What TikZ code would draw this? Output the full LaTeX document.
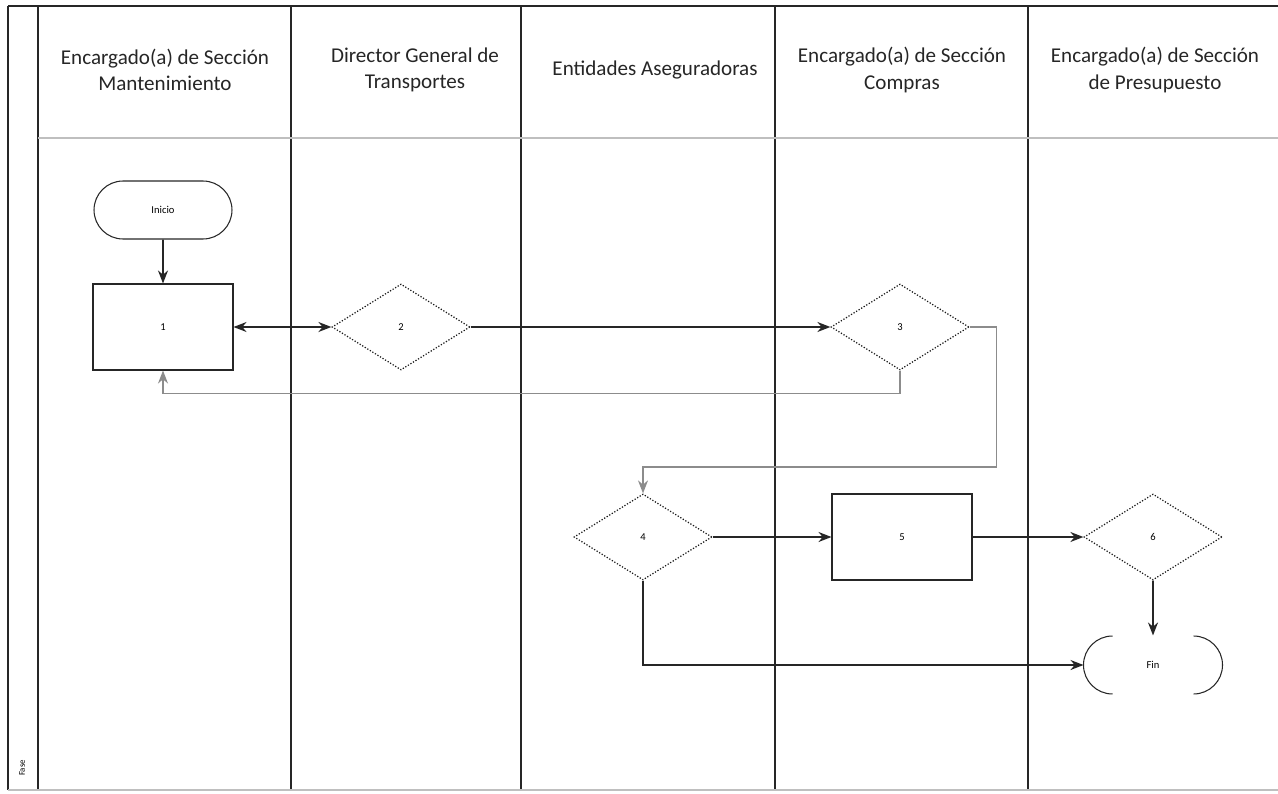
\documentclass[tikz,border=0pt]{standalone}
\usepackage{fontspec}
\setmainfont{Carlito}
\usepackage{tikz}
\usetikzlibrary{calc,arrows.meta,shapes.geometric,shapes.misc}
\colorlet{laneline}{black!85}
\colorlet{faint}{black!25}

\begin{document}
\begin{tikzpicture}[x=0.02cm, y=-0.02cm,
    >={Stealth[length=2.6mm,width=2mm]},
    lane/.style={line width=1.1pt, laneline},
    head/.style={align=center, font=\fontsize{12}{15}\selectfont, text=black!85},
    proc/.style={draw=black!85, line width=0.6pt, minimum width=2.8cm, minimum height=1.72cm, inner sep=0pt, font=\fontsize{6}{7}\selectfont},
    decis/.style={diamond, draw=black!90, densely dotted, line width=0.7pt, minimum width=2.76cm, minimum height=1.72cm, inner sep=0pt, font=\fontsize{6}{7}\selectfont},
    term/.style={rounded rectangle, draw=black!85, line width=0.6pt, minimum width=2.76cm, minimum height=1.16cm, inner sep=0pt, font=\fontsize{6}{7}\selectfont},
    flow/.style={->, line width=1pt, black!85},
    back/.style={->, line width=0.8pt, black!45}]
        \useasboundingbox (0,0) rectangle (1278,794);
        % Frame and lanes
        \draw[lane] (8,6) -- (1278,6);
        \draw[lane] (8,6) -- (8,790);
        \draw[lane] (38,6) -- (38,790);
        \draw[lane] (291,6) -- (291,790);
        \draw[lane] (521,6) -- (521,790);
        \draw[lane] (775,6) -- (775,790);
        \draw[lane] (1028,6) -- (1028,790);
        \draw[faint, line width=0.8pt] (38,138) -- (1278,138);
        \draw[faint, line width=0.8pt] (8,790) -- (1278,790);
        % Lane titles
        \node[head] (h1) at (165,70) {Encargado(a) de Sección\\Mantenimiento};
        \node[head] (h2) at (415,70) {Director General de\\Transportes};
        \node[head] (h3) at (655,70) {Entidades Aseguradoras};
        \node[head] (h4) at (902,70) {Encargado(a) de Sección\\Compras};
        \node[head] (h5) at (1155,70) {Encargado(a) de Sección\\de Presupuesto};
        \node[rotate=90, font=\fontsize{5}{6}\selectfont] (fase) at (22,768) {Fase};
        % Steps
        \node[term] (ini) at (163,210) {Inicio};
        \node[proc] (p1) at (163,327) {1};
        \node[decis] (d2) at (401,327) {2};
        \node[decis] (d3) at (900,327) {3};
        \node[decis] (d4) at (643,537) {4};
        \node[proc] (p5) at (902,537) {5};
        \node[decis] (d6) at (1153,537) {6};
        \node[term, draw=none] (fin) at (1153,665) {Fin};
        % Fin is only drawn with its two round ends
        \draw[black!85, line width=0.6pt] ($(fin.west)+(29,-29)$) arc[start angle=90, end angle=270, radius=0.58cm];
        \draw[black!85, line width=0.6pt] ($(fin.east)+(-29,-29)$) arc[start angle=90, end angle=-90, radius=0.58cm];
        % Connectors
        \draw[flow] (ini) -- (p1);
        \draw[flow, <->] (p1) -- (d2);
        \draw[flow] (d2) -- (d3);
        \draw[back] (d3.south) -- ++(0,23) -| (p1.south);
        \draw[back] (d3.east) -- ++(27,0) -- ++(0,140) -| (d4.north);
        \draw[flow] (d4) -- (p5);
        \draw[flow] (p5) -- (d6);
        \draw[flow] (d6) -- (fin);
        \draw[flow] (d4.south) |- (fin.west);
      \end{tikzpicture}
\end{document}
